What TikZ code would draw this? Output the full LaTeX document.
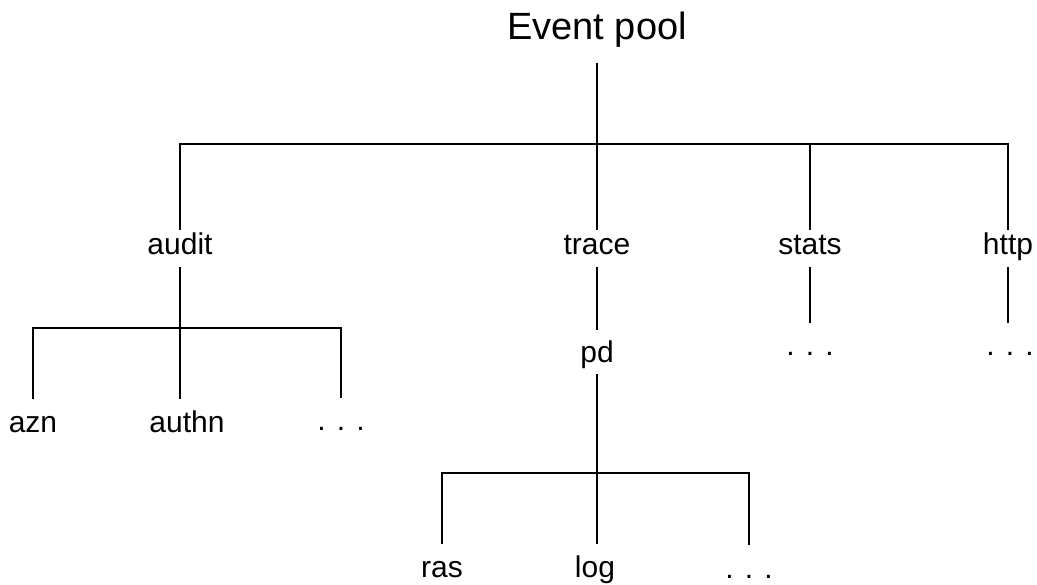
\documentclass[tikz,border=0pt]{standalone}
\usepackage{fontspec}
\setmainfont{Liberation Sans}
\begin{document}
\begin{tikzpicture}[x=1pt,y=-1pt,line width=2pt,
  branchtext/.style={anchor=base,inner sep=2pt,text height=22pt,text depth=9pt,font=\fontsize{30}{36}\selectfont},
  leaftext/.style={branchtext,text height=30pt,text depth=8pt},
  roottext/.style={anchor=base,inner sep=2pt,text depth=20pt,font=\fontsize{38}{44}\selectfont}]
\useasboundingbox (0,0) rectangle (1037,585);
\coordinate (rootbar) at (597,144);
\coordinate (auditbar) at (180,328);
\coordinate (pdbar) at (597,473);

\node[roottext] (pool) at (597,40) {Event pool};
\node[branchtext] (audit) at (180,255) {audit};
\node[branchtext] (trace) at (597,255) {trace};
\node[branchtext] (stats) at (810,255) {stats};
\node[branchtext] (http) at (1008,255) {http};
\node[leaftext] (pd) at (597,363) {pd};
\node[leaftext] (azn) at (33,432) {azn};
\node[leaftext] (authn) at (187,432) {authn};
\node[leaftext] (auditdots) at (341,431) {. . .};
\node[leaftext] (statsdots) at (810,356) {. . .};
\node[leaftext] (httpdots) at (1010,356) {. . .};
\node[leaftext] (ras) at (442,577) {ras};
\node[leaftext] (log) at (595,577) {log};
\node[leaftext] (pddots) at (749,578) {. . .};

\draw (pool.south) -- (trace.north);% Root stem
\draw (audit.north) |- (rootbar -| http.north) -- (http.north);% Root bar
\draw (stats.north) -- (stats.north |- rootbar);
\draw (audit.south) -- (audit.south |- authn.north);% audit stem
\draw (azn.north) |- (auditbar -| auditdots.north) -- (auditdots.north);% audit bar
\draw (stats.south) -- (stats.south |- statsdots.north);
\draw (http.south) -- (http.south |- httpdots.north);
\draw (trace.south) -- (pd.north);
\draw (pd.south) -- (pd.south |- log.north);% pd stem
\draw (ras.north) |- (pdbar -| pddots.north) -- (pddots.north);% pd bar
\end{tikzpicture}
\end{document}
